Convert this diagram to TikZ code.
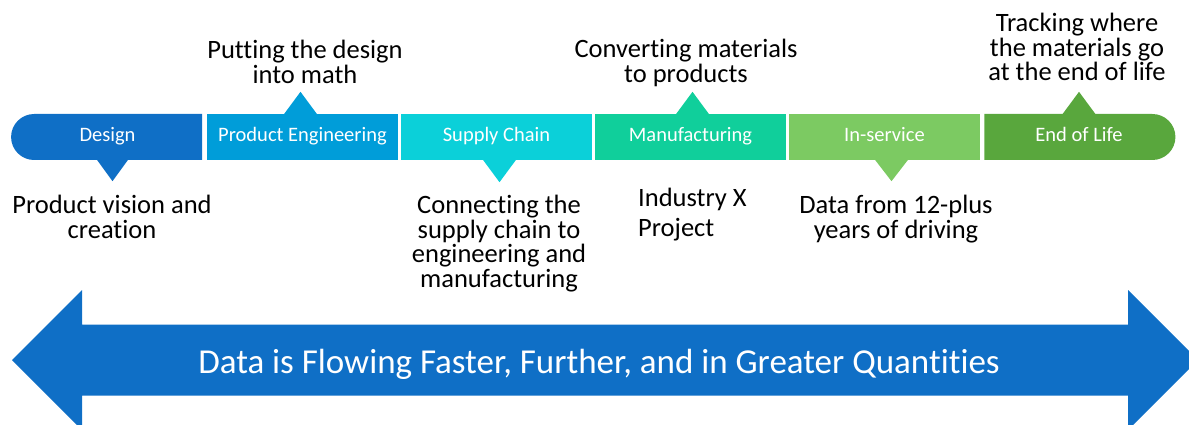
\documentclass[tikz,border=0pt]{standalone}
\usepackage{fontspec}
\setmainfont{Carlito}[Ligatures=NoCommon]
\usetikzlibrary{positioning,shapes.misc}

\definecolor{designblue}{HTML}{0F6FC6}
\definecolor{engblue}{HTML}{009DD9}
\definecolor{supplycyan}{HTML}{0BD0D9}
\definecolor{manufgreen}{HTML}{10CF9B}
\definecolor{servicegreen}{HTML}{7CCA62}
\definecolor{eolgreen}{HTML}{59A73D}

\begin{document}
\begin{tikzpicture}[x=1pt,y=-1pt,
    stage/.style={minimum width=191pt, minimum height=46pt, inner sep=0pt,
        text height=14pt, text depth=4pt,
        text=white, font=\fontsize{20.5}{24}\selectfont},
    note/.style={align=center, inner sep=0pt, anchor=north,
        font=\fontsize{26.5}{24.5}\selectfont}]
    \useasboundingbox (0,0) rectangle (1189,425);

    % Stages of the timeline
    \node[stage, rounded rectangle, rounded rectangle right arc=none, fill=designblue] (design) at (107.5,137) {Design};
    \node[stage, rectangle, fill=engblue] (eng) at (302.5,137) {Product Engineering};
    \node[stage, rectangle, fill=supplycyan] (supply) at (496.5,137) {Supply Chain};
    \node[stage, rectangle, fill=manufgreen] (manuf) at (690.5,137) {Manufacturing};
    \node[stage, rectangle, fill=servicegreen] (service) at (884.5,137) {In-service};
    \node[stage, rounded rectangle, rounded rectangle left arc=none, fill=eolgreen] (eol) at (1079,137) {End of Life};

    % Pointers below
    \fill[designblue] ([xshift=-11pt,yshift=1pt]design.south) -- ([xshift=21pt,yshift=1pt]design.south) -- ([xshift=5pt,yshift=-21pt]design.south) -- cycle;
    \fill[supplycyan] ([xshift=-14pt,yshift=1pt]supply.south) -- ([xshift=20pt,yshift=1pt]supply.south) -- ([xshift=3pt,yshift=-22pt]supply.south) -- cycle;
    \fill[servicegreen] ([xshift=-10pt,yshift=1pt]service.south) -- ([xshift=24pt,yshift=1pt]service.south) -- ([xshift=7pt,yshift=-21pt]service.south) -- cycle;

    % Pointers above
    \fill[engblue] ([xshift=-19pt,yshift=-1pt]eng.north) -- ([xshift=15pt,yshift=-1pt]eng.north) -- ([xshift=-2pt,yshift=22pt]eng.north) -- cycle;
    \fill[manufgreen] ([xshift=-15pt,yshift=-1pt]manuf.north) -- ([xshift=19pt,yshift=-1pt]manuf.north) -- ([xshift=2pt,yshift=22pt]manuf.north) -- cycle;
    \fill[eolgreen] ([xshift=-17pt,yshift=-1pt]eol.north) -- ([xshift=17pt,yshift=-1pt]eol.north) -- ([xshift=0pt,yshift=22pt]eol.north) -- cycle;

    % Notes
    \node[note] (engnote) at (305,40) {Putting the design\\into math};
    \node[note] (manufnote) at (686,39) {Converting materials\\to products};
    \node[note] (eolnote) at (1077,13) {Tracking where\\the materials go\\at the end of life};
    \node[note] (designnote) at (112,195) {Product vision and\\creation};
    \node[note] (supplynote) at (499,195) {Connecting the\\supply chain to\\engineering and\\manufacturing};
    \node[note, align=left, anchor=north west, font=\fontsize{26.5}{30}\selectfont] (xnote) at (638,188) {Industry X\\Project};
    \node[note] (servicenote) at (896,195) {Data from 12-plus\\years of driving};

    % Data flow arrow
    \fill[designblue] (12,360) -- (82,290) -- (82,324.5) -- (1128,324.5) -- (1128,290) -- (1198,360)
        -- (1128,430) -- (1128,395.5) -- (82,395.5) -- (82,430) -- cycle;
    \node[anchor=base, inner sep=0pt, text=white, font=\fontsize{35}{40}\selectfont] (flow) at (599,373) {Data is Flowing Faster, Further, and in Greater Quantities};
\end{tikzpicture}
\end{document}
